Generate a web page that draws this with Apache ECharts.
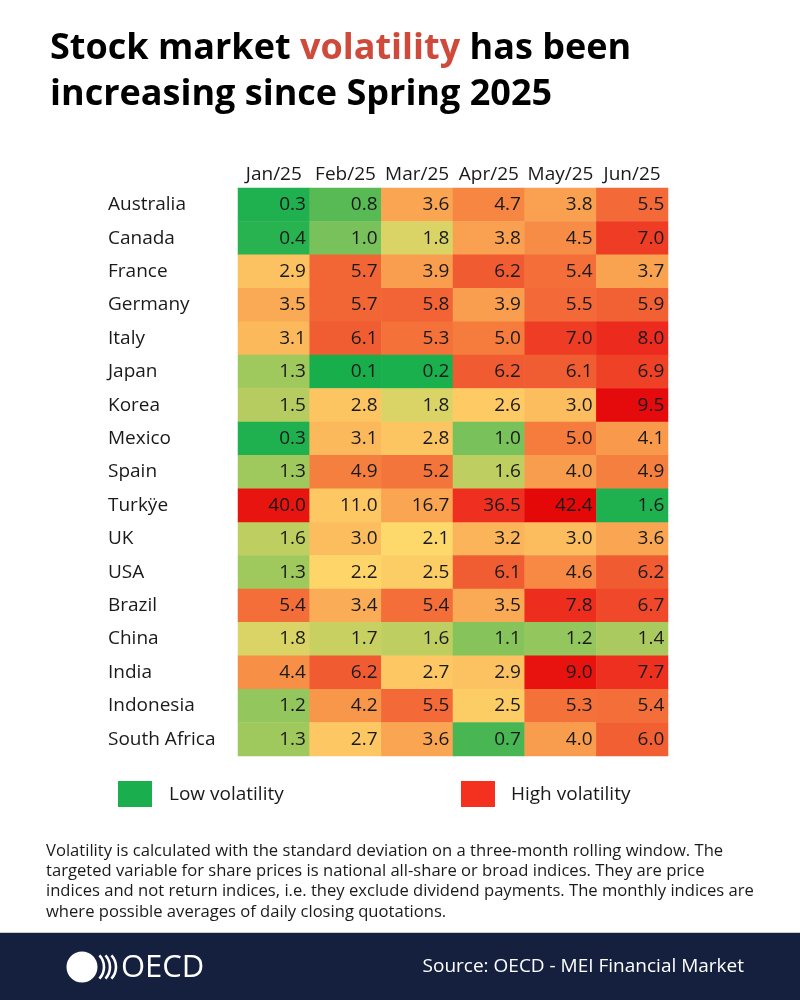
<!DOCTYPE html>
<html><head><meta charset="utf-8">
<script src="https://cdn.jsdelivr.net/npm/echarts@6/dist/echarts.min.js"></script>
<style>html,body{margin:0;padding:0;background:#fff}#c{width:800px;height:1000px}</style>
</head><body><div id="c"></div>
<script>
const months = ['Jan/25','Feb/25','Mar/25','Apr/25','May/25','Jun/25'];
const countries = ['Australia','Canada','France','Germany','Italy','Japan','Korea','Mexico','Spain','Turkÿe','UK','USA','Brazil','China','India','Indonesia','South Africa'];
const jan = [0.3,0.4,2.9,3.5,3.1,1.3,1.5,0.3,1.3,40.0,1.6,1.3,5.4,1.8,4.4,1.2,1.3];
const feb = [0.8,1.0,5.7,5.7,6.1,0.1,2.8,3.1,4.9,11.0,3.0,2.2,3.4,1.7,6.2,4.2,2.7];
const mar = [3.6,1.8,3.9,5.8,5.3,0.2,1.8,2.8,5.2,16.7,2.1,2.5,5.4,1.6,2.7,5.5,3.6];
const apr = [4.7,3.8,6.2,3.9,5.0,6.2,2.6,1.0,1.6,36.5,3.2,6.1,3.5,1.1,2.9,2.5,0.7];
const may = [3.8,4.5,5.4,5.5,7.0,6.1,3.0,5.0,4.0,42.4,3.0,4.6,7.8,1.2,9.0,5.3,4.0];
const jun = [5.5,7.0,3.7,5.9,8.0,6.9,9.5,4.1,4.9,1.6,3.6,6.2,6.7,1.4,7.7,5.4,6.0];
const columns = [jan, feb, mar, apr, may, jun];
const separateRow = 'Turkÿe';
const footnote = [
 'Volatility is calculated with the standard deviation on a three-month rolling window. The',
 'targeted variable for share prices is national all-share or broad indices. They are price',
 'indices and not return indices, i.e. they exclude dividend payments. The monthly indices are',
 'where possible averages of daily closing quotations.'
];

// colour anchors
const mainStops = [[0,'#14ad4b'],[0.3,'#1fb14f'],[0.7,'#48b753'],[1.0,'#79c15a'],[1.2,'#93c65c'],[1.5,'#b6cc60'],[1.7,'#c8d062'],[1.8,'#dad466'],[2.1,'#fdd86a'],[2.5,'#fdcd65'],[2.9,'#fcc261'],[3.2,'#fbb45a'],[3.6,'#f9a552'],[4.0,'#f89c4d'],[4.5,'#f78c46'],[5.0,'#f57c3d'],[5.5,'#f36a38'],[6.2,'#f15b31'],[7.0,'#ef3d25'],[8.0,'#ec2a1e'],[9.0,'#e8130f'],[9.5,'#e50a0b'],[10,'#e30808']];
const turkStops = [[0,'#1ab04e'],[1.6,'#1fb14f'],[6,'#dad466'],[11,'#fdc763'],[16.7,'#f9a552'],[26,'#f46a38'],[36.5,'#ef2f1f'],[40,'#e8140f'],[42.4,'#e50808'],[45,'#e30606']];
function hex(c){return [1,3,5].map(i=>parseInt(c.substr(i,2),16));}
function sample(stops,max,n){
  const out=[];
  for(let k=0;k<=n;k++){
    const v=max*k/n; let i=0;
    while(i<stops.length-2 && v>stops[i+1][0]) i++;
    const a=stops[i],b=stops[i+1];
    const t=Math.max(0,Math.min(1,(v-a[0])/(b[0]-a[0])));
    const ca=hex(a[1]),cb=hex(b[1]);
    out.push('rgb('+ca.map((x,j)=>Math.round(x+(cb[j]-x)*t)).join(',')+')');
  }
  return out;
}
const mainData=[], turkData=[];
columns.forEach((col,x)=>col.forEach((v,y)=>{
  (countries[y]===separateRow?turkData:mainData).push([x,y,v]);
}));
const FONT='"Open Sans", "Noto Sans", sans-serif';
const lbl={show:true,position:'insideRight',distance:4,color:'#1a1a1a',fontSize:19,fontFamily:FONT,formatter:p=>p.value[2].toFixed(1)};
const arcStyle={stroke:'#fff',lineWidth:2.6,fill:'none'};

const chart=echarts.init(document.getElementById('c'),null,{renderer:'canvas'});
chart.setOption({
  backgroundColor:'#fff',
  animation:false,
  title:{
    left:45,top:21,
    text:'Stock market {r|volatility} has been\nincreasing since Spring 2025',
    textStyle:{fontFamily:FONT,fontWeight:'bold',fontSize:36,color:'#000',lineHeight:46,
      rich:{r:{color:'#cf4a3a',fontFamily:FONT,fontWeight:'bold',fontSize:36,lineHeight:46}}}
  },
  grid:{left:238,right:132,top:188,bottom:244},
  xAxis:{type:'category',position:'top',data:months,
    axisLine:{show:false},axisTick:{show:false},splitLine:{show:false},
    axisLabel:{color:'#1a1a1a',fontSize:19,fontFamily:FONT,margin:4,interval:0}},
  yAxis:{type:'category',inverse:true,data:countries,
    axisLine:{show:false},axisTick:{show:false},splitLine:{show:false},
    axisLabel:{color:'#1a1a1a',fontSize:19,fontFamily:FONT,align:'left',margin:130,interval:0}},
  visualMap:[
    {type:'continuous',show:false,seriesIndex:0,min:0,max:10,inRange:{color:sample(mainStops,10,200)}},
    {type:'continuous',show:false,seriesIndex:1,min:0,max:45,inRange:{color:sample(turkStops,45,450)}}
  ],
  series:[
    {type:'heatmap',data:mainData,label:lbl,itemStyle:{borderWidth:0},emphasis:{disabled:true}},
    {type:'heatmap',data:turkData,label:lbl,itemStyle:{borderWidth:0},emphasis:{disabled:true}}
  ],
  graphic:[
    {type:'rect',shape:{x:118,y:781,width:34,height:26},style:{fill:'#1aae4e'}},
    {type:'text',x:169,y:795,style:{text:'Low volatility',fontSize:19,fontFamily:FONT,fill:'#1a1a1a',verticalAlign:'middle'}},
    {type:'rect',shape:{x:461,y:781,width:34,height:26},style:{fill:'#f4301f'}},
    {type:'text',x:511,y:795,style:{text:'High volatility',fontSize:19,fontFamily:FONT,fill:'#1a1a1a',verticalAlign:'middle'}},
    {type:'text',x:46,y:841,style:{text:footnote.join('\n'),fontSize:16.6,lineHeight:20.3,fontFamily:FONT,fill:'#1a1a1a'}},
    {type:'rect',shape:{x:0,y:932,width:800,height:68},style:{fill:'#15203f'}},
    {type:'rect',shape:{x:0,y:932,width:800,height:1},style:{fill:'#c9ccd4'}},
    {type:'circle',shape:{cx:82,cy:967,r:15.5},style:{fill:'#fff'}},
    {type:'arc',shape:{cx:87,cy:967,r:17,startAngle:-0.75,endAngle:0.75},style:arcStyle},
    {type:'arc',shape:{cx:93,cy:967,r:17,startAngle:-0.75,endAngle:0.75},style:arcStyle},
    {type:'arc',shape:{cx:99,cy:967,r:17,startAngle:-0.75,endAngle:0.75},style:arcStyle},
    {type:'text',x:121,y:968,style:{text:'OECD',fontSize:31,fontFamily:FONT,fill:'#fff',verticalAlign:'middle'}},
    {type:'text',x:744,y:967,style:{text:'Source: OECD - MEI Financial Market',fontSize:19,fontFamily:FONT,fill:'#fff',align:'right',verticalAlign:'middle'}}
  ]
});
</script></body></html>
